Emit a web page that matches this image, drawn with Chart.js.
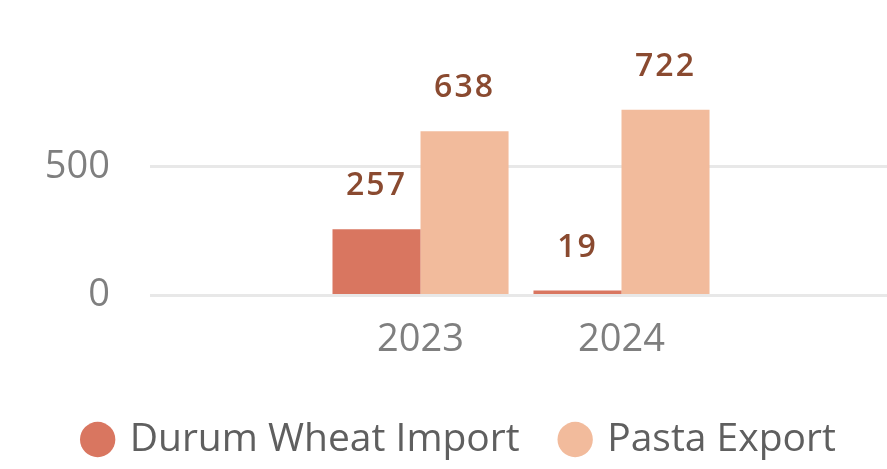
<!DOCTYPE html>
<html>
<head>
<meta charset="utf-8">
<script src="https://cdn.jsdelivr.net/npm/chart.js@4/dist/chart.umd.min.js"></script>
<style>
  html, body { margin: 0; padding: 0; background: #fff; overflow: hidden; }
  #wrap { width: 887px; height: 469px; }
</style>
</head>
<body>
<div id="wrap"><canvas id="tradeChart"></canvas></div>
<script>
const years = [2023, 2024];
const durumImport = [257, 19];
const pastaExport = [638, 722];
const yTicks = [0, 500];

const fontFamily = "'Open Sans', 'Noto Sans', sans-serif";

// value labels above each bar
const barLabels = {
  id: "barLabels",
  afterDatasetsDraw(chart) {
    const ctx = chart.ctx;
    ctx.save();
    ctx.font = "600 32px " + fontFamily;
    ctx.fillStyle = "#8a4a30";
    ctx.textAlign = "center";
    ctx.textBaseline = "alphabetic";
    if ("letterSpacing" in ctx) ctx.letterSpacing = "2px";
    chart.data.datasets.forEach((ds, i) => {
      chart.getDatasetMeta(i).data.forEach((bar, j) => {
        ctx.fillText(String(ds.data[j].y), bar.x, bar.y - 34);
      });
    });
    ctx.restore();
  },
};

const tradeData = {
  datasets: [
    {
      label: "Durum Wheat Import",
      backgroundColor: "#d97660",
      data: years.map((yr, i) => ({ x: yr, y: durumImport[i] })),
    },
    {
      label: "Pasta Export",
      backgroundColor: "#f2bb9c",
      data: years.map((yr, i) => ({ x: yr, y: pastaExport[i] })),
    },
  ],
};

const tradeConfig = {
  type: "bar",
  data: tradeData,
  plugins: [barLabels],
  options: {
    responsive: true,
    maintainAspectRatio: false,
    animation: false,
    layout: { padding: { left: 34, right: 0, top: 20, bottom: 0 } },
    datasets: { bar: { categoryPercentage: 0.876, barPercentage: 1 } },
    plugins: {
      tooltip: { enabled: false },
      legend: {
        position: "bottom",
        labels: {
          usePointStyle: true,
          pointStyle: "circle",
          boxWidth: 25,
          boxHeight: 25,
          padding: 43,
          color: "#5f5f5f",
          font: { family: fontFamily, size: 39 },
        },
      },
    },
    scales: {
      x: {
        type: "linear",
        offset: false,
        min: 2021.654,
        max: 2025.321,
        afterBuildTicks: (s) => { s.ticks = years.map((v) => ({ value: v })); },
        grid: { display: false },
        border: { display: false },
        ticks: {
          padding: 14,
          color: "#7f7f7f",
          font: { family: fontFamily, size: 38 },
          callback: (v) => String(v),
        },
      },
      y: {
        min: 0,
        max: 904,
        afterBuildTicks: (s) => { s.ticks = yTicks.map((v) => ({ value: v })); },
        afterFit: (s) => { s.width = 116; },
        grid: { color: "#e8e8e8", lineWidth: 3, drawTicks: false },
        border: { display: false },
        ticks: {
          padding: 40,
          color: "#7f7f7f",
          font: { family: fontFamily, size: 38 },
        },
      },
    },
  },
};

const tradeChart = new Chart(document.getElementById("tradeChart"), tradeConfig);
</script>
</body>
</html>
